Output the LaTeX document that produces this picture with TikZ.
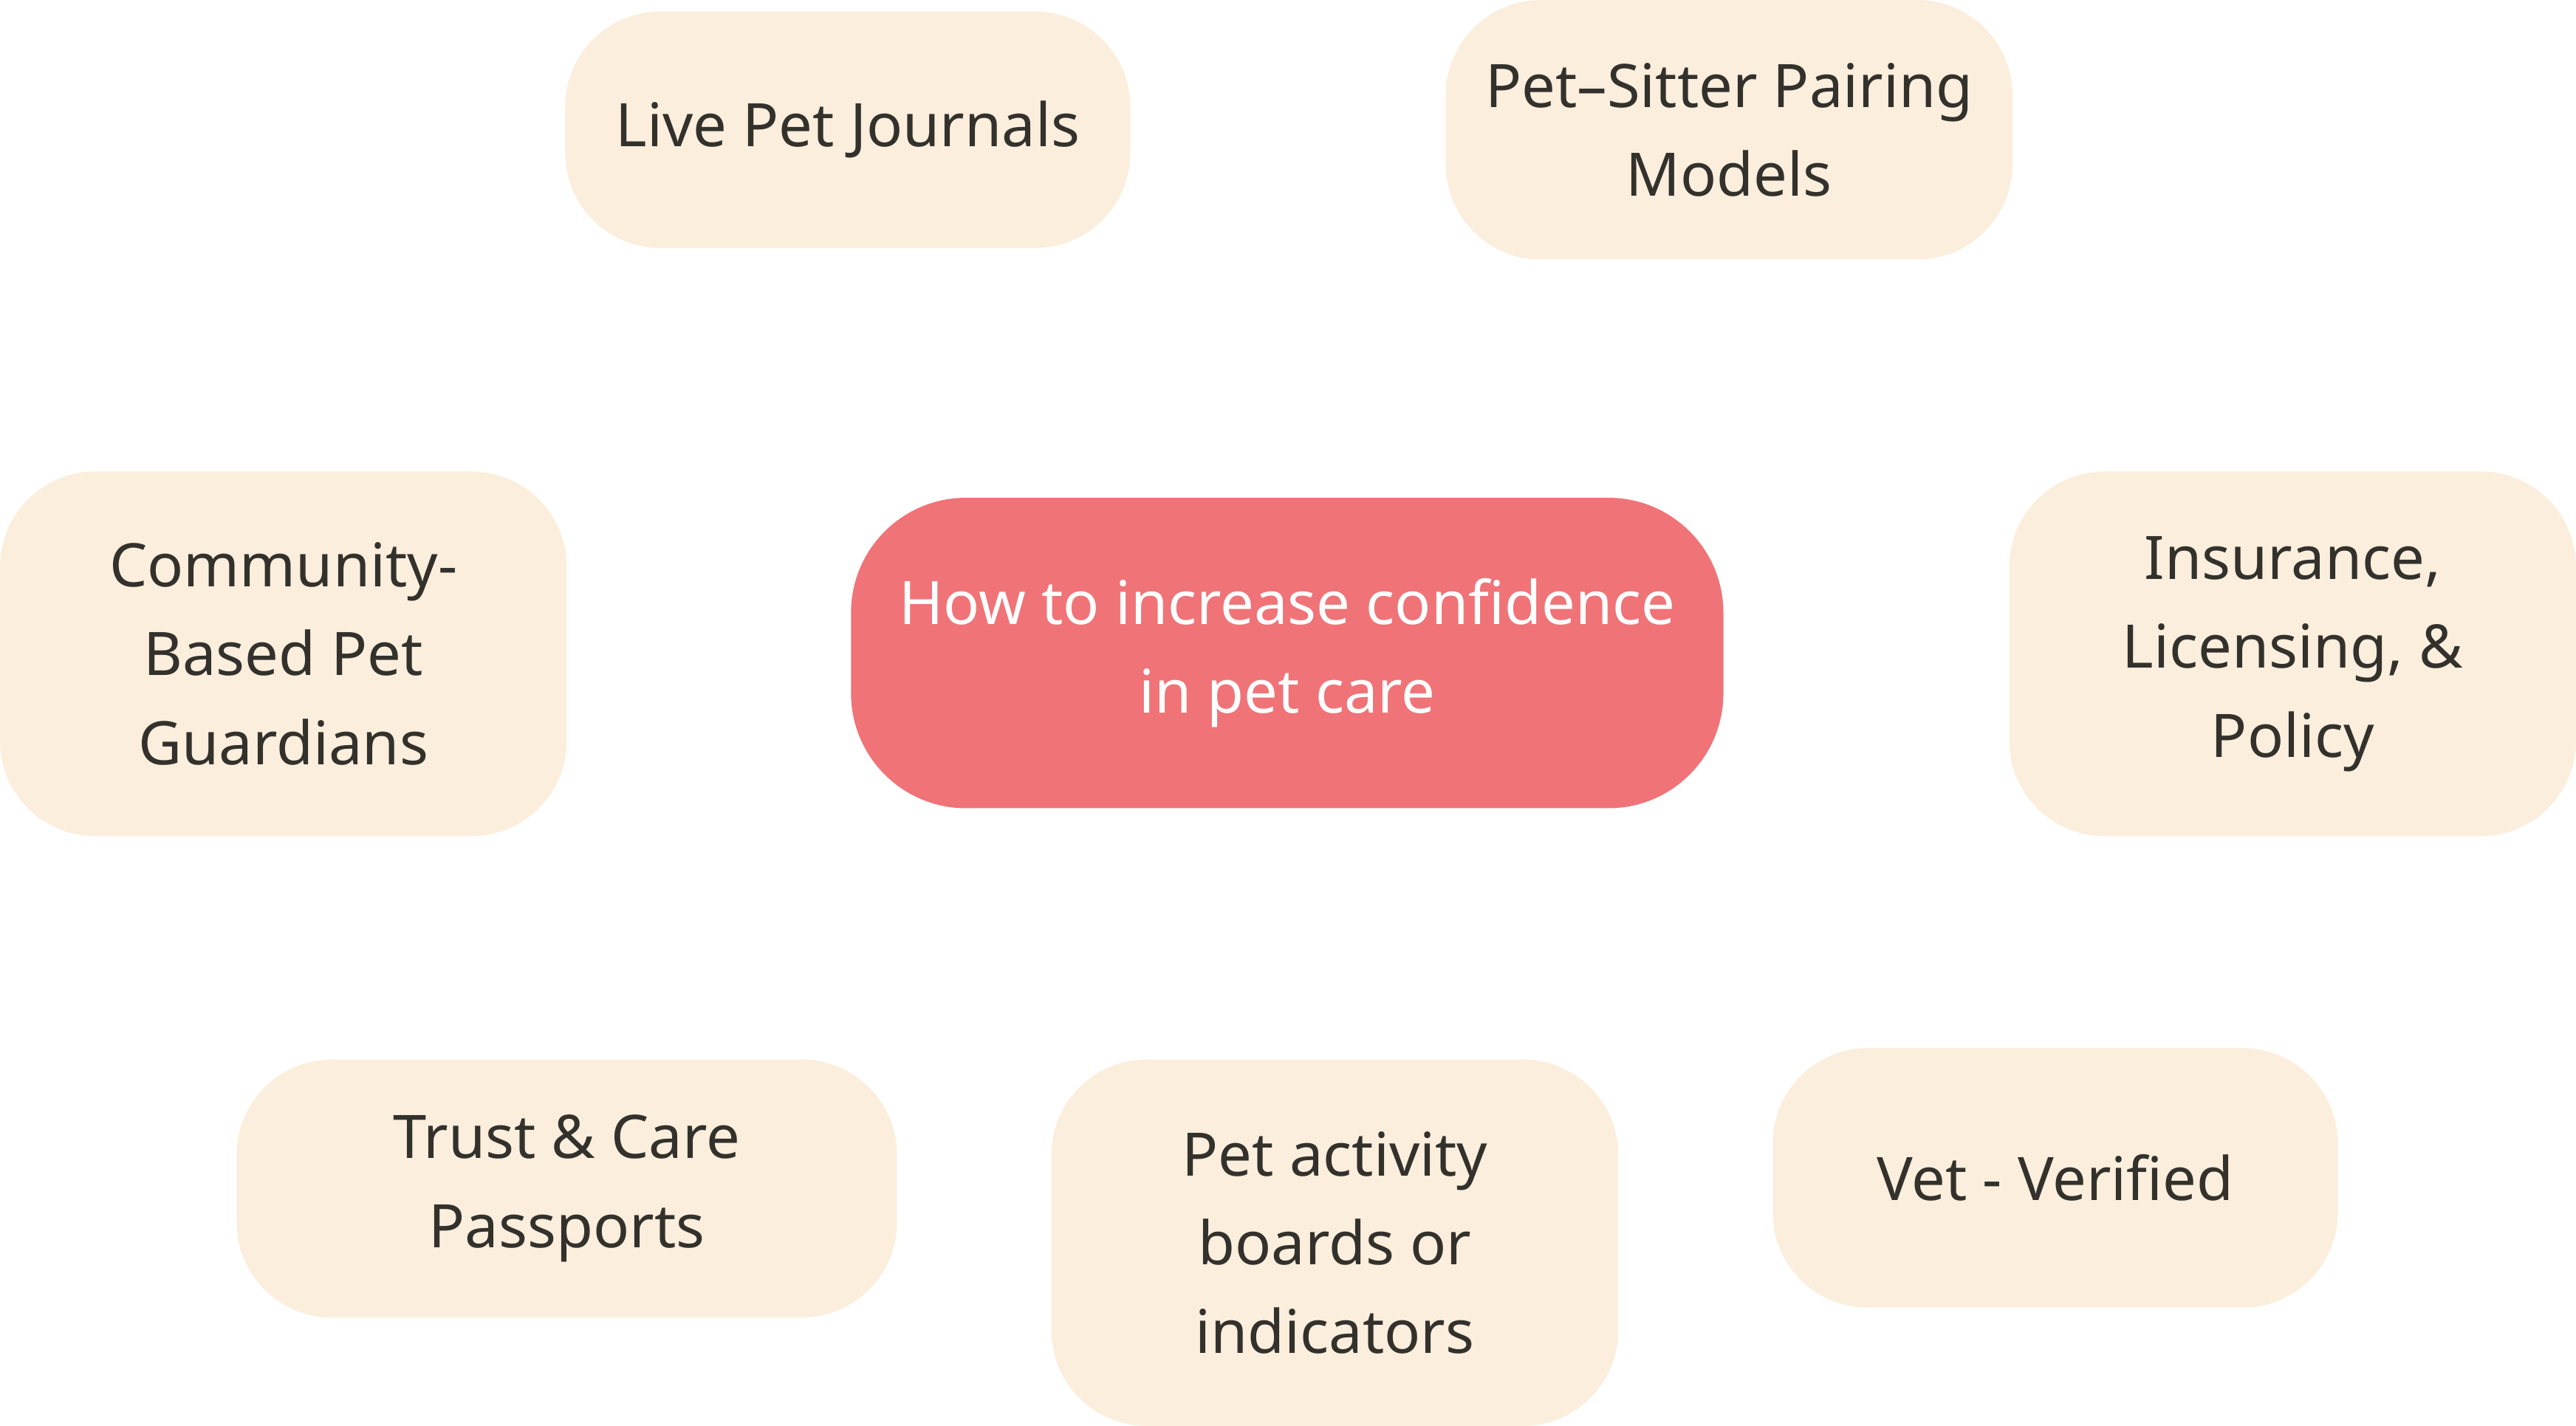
\documentclass[tikz,border=0pt]{standalone}
\usepackage{fontspec}
\setmainfont{Noto Sans}
\usepackage{tikz}
\usetikzlibrary{positioning}

\definecolor{idea}{HTML}{FBEEDC}
\definecolor{topic}{HTML}{F07377}
\definecolor{ink}{HTML}{33312C}

\begin{document}
\begin{tikzpicture}[
    idea/.style={fill=idea, rounded corners=0.58cm, align=center, text=ink, minimum width=3.45cm, minimum height=1.58cm, font=\fontsize{10.4pt}{15.4pt}\selectfont},
    topic/.style={fill=topic, rounded corners=0.7cm, align=center, text=white, minimum width=5.31cm, minimum height=1.89cm, font=\fontsize{10.4pt}{15.4pt}\selectfont}
]
\useasboundingbox (0,0) rectangle (15.68,8.68);
\node[topic] (question) at (7.835,4.705) {How to increase confidence\\in pet care};
\node[idea, minimum width=3.44cm, minimum height=1.44cm] (journals) at (5.16,7.89) {Live Pet Journals};
\node[idea] (pairing) at (10.525,7.89) {Pet--Sitter Pairing\\Models};
\node[idea, minimum height=2.22cm] (guardians) at (1.725,4.70) {Community-\\Based Pet\\Guardians};
\node[idea, minimum height=2.22cm] (policy) at (13.955,4.70) {Insurance,\\Licensing, \&\\Policy};
\node[idea, minimum width=4.02cm, minimum height=1.57cm] (passports) at (3.45,1.445) {Trust \& Care\\Passports};
\node[idea, minimum height=2.23cm] (boards) at (8.125,1.115) {Pet activity\\boards or\\indicators};
\node[idea, minimum width=3.44cm] (verified) at (12.51,1.51) {Vet - Verified};
\end{tikzpicture}
\end{document}
